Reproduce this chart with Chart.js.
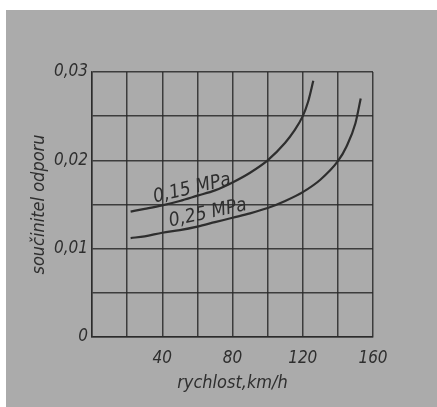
<!DOCTYPE html>
<html>
<head>
<meta charset="utf-8">
<script src="https://cdn.jsdelivr.net/npm/chart.js@4/dist/chart.umd.min.js"></script>
<style>
html,body{margin:0;padding:0;background:#fff;}
#c{display:block;}
</style>
</head>
<body>
<canvas id="c" width="437" height="407"></canvas>
<script>
// ---- data ----
const speed015 = [22, 30, 40, 50, 60, 70, 80, 90, 100, 110, 115, 120, 123, 126];
const coef015  = [0.0142, 0.0145, 0.0149, 0.0154, 0.0160, 0.0166, 0.0175, 0.0186, 0.0200, 0.0220, 0.0233, 0.0250, 0.0266, 0.0290];
const speed025 = [22, 30, 40, 50, 60, 70, 80, 90, 100, 110, 120, 130, 140, 145, 150, 153];
const coef025  = [0.0112, 0.0114, 0.0118, 0.0121, 0.0125, 0.0130, 0.0135, 0.0140, 0.0146, 0.0154, 0.0164, 0.0178, 0.0199, 0.0216, 0.0242, 0.0270];
const seriesLabels = ['0,15 MPa', '0,25 MPa'];
const xTickLabels = {40: '40', 80: '80', 120: '120', 160: '160'};
const yTickLabels = ['0', '0,01', '0,02', '0,03'];
const xTitle = 'rychlost,km/h';
const yTitle = 'součinitel odporu';

const FONT = "'DejaVu Sans Condensed','Liberation Sans Narrow','DejaVu Sans',sans-serif";
const INK = '#2e2e2e';
const GRID = 'rgba(40,40,40,0.85)';

// label anchor points in data space
const labelAnchors = [{x: 57, y: 0.0168, rot: -0.23}, {x: 66, y: 0.0140, rot: -0.21}];

const bgPlugin = {
  id: 'bg',
  beforeDraw(chart) {
    const ctx = chart.ctx;
    ctx.save();
    ctx.fillStyle = '#ffffff';
    ctx.fillRect(0, 0, chart.width, chart.height);
    ctx.fillStyle = '#ababab';
    ctx.fillRect(6, 10, chart.width - 6, chart.height - 10);
    ctx.restore();
  }
};

const curveLabelPlugin = {
  id: 'curveLabels',
  afterDatasetsDraw(chart) {
    const ctx = chart.ctx;
    const xs = chart.scales.x, ys = chart.scales.y;
    ctx.save();
    ctx.fillStyle = INK;
    ctx.font = 'italic 19px ' + FONT;
    ctx.textAlign = 'center';
    ctx.textBaseline = 'middle';
    seriesLabels.forEach((t, i) => {
      const a = labelAnchors[i];
      ctx.save();
      ctx.translate(xs.getPixelForValue(a.x), ys.getPixelForValue(a.y));
      ctx.rotate(a.rot);
      ctx.fillText(t, 0, 0);
      ctx.restore();
    });
    ctx.restore();
  }
};

new Chart(document.getElementById('c'), {
  type: 'line',
  data: {
    datasets: [
      {label: seriesLabels[0], data: speed015.map((x, i) => ({x, y: coef015[i]}))},
      {label: seriesLabels[1], data: speed025.map((x, i) => ({x, y: coef025[i]}))}
    ].map(d => Object.assign(d, {
      borderColor: INK, borderWidth: 2.2, pointRadius: 0,
      cubicInterpolationMode: 'monotone', fill: false
    }))
  },
  options: {
    responsive: false,
    animation: false,
    layout: {padding: {top: 72, right: 64, bottom: 0, left: 0}},
    plugins: {legend: {display: false}, tooltip: {enabled: false}},
    scales: {
      x: {
        type: 'linear', min: 0, max: 160,
        afterFit(s) { s.height = 70; },
        grid: {color: GRID, lineWidth: 1.5, drawTicks: false},
        border: {color: GRID, width: 1.5},
        ticks: {
          stepSize: 20, padding: 11, color: INK, maxRotation: 0, autoSkip: false,
          font: {family: FONT, size: 17, style: 'italic'},
          callback: v => xTickLabels[v] || ''
        },
        title: {display: true, text: xTitle, color: INK,
          font: {family: FONT, size: 18, style: 'italic'}, padding: {top: 0, bottom: 13}}
      },
      y: {
        type: 'linear', min: 0, max: 0.03,
        afterFit(s) { s.width = 92; },
        grid: {color: GRID, lineWidth: 1.5, drawTicks: false},
        border: {color: GRID, width: 1.5},
        ticks: {
          stepSize: 0.005, padding: 4, color: INK, autoSkip: false,
          font: {family: FONT, size: 17, style: 'italic'},
          callback: v => {
            const k = Math.round(v / 0.005);
            return k % 2 === 0 ? yTickLabels[k / 2] : '';
          }
        },
        title: {display: true, text: yTitle, color: INK,
          font: {family: FONT, size: 18, style: 'italic'}, padding: {top: 29, bottom: 0}}
      }
    }
  },
  plugins: [bgPlugin, curveLabelPlugin]
});
</script>
</body>
</html>
